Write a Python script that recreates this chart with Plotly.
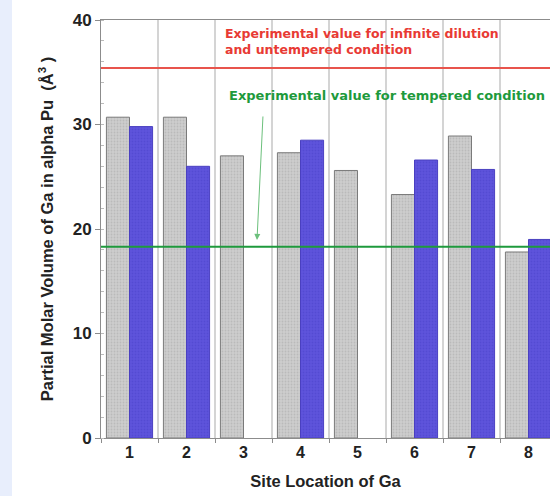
import plotly.graph_objects as go

# Site index of the Ga atom
sites = [1, 2, 3, 4, 5, 6, 7, 8]
# Partial molar volume (Å^3), two calculations per site (None = not computed)
volume_gray = [30.7, 30.7, 27.0, 27.3, 25.6, 23.3, 28.9, 17.8]
volume_blue = [29.8, 26.0, None, 28.5, None, 26.6, 25.7, 19.0]
# Experimental reference values
exp_untempered = 35.4
exp_tempered = 18.3
y_ticks = [0, 10, 20, 30, 40]

fig = go.Figure()

fig.add_trace(go.Bar(
    x=sites, y=volume_gray, name="gray",
    marker=dict(color="#c6c6c6", line=dict(color="#7a7a7a", width=1),
                pattern=dict(shape=".", fgcolor="#a8a8a8", bgcolor="#cdcdcd", size=3, solidity=0.3)),
))
fig.add_trace(go.Bar(
    x=sites, y=volume_blue, name="blue",
    marker=dict(color="#5a4ed8", line=dict(color="#4a40c0", width=1),
                pattern=dict(shape=".", fgcolor="#4a3fc8", bgcolor="#5e54dc", size=3, solidity=0.3)),
))

# separators between site groups
for b in [1.5, 2.5, 3.5, 4.5, 5.5, 6.5, 7.5]:
    fig.add_shape(type="line", xref="x", yref="y", x0=b, x1=b, y0=0, y1=40,
                  line=dict(color="#d4d4d4", width=2), layer="below")

# experimental reference lines
fig.add_shape(type="line", xref="paper", yref="y", x0=0, x1=1, y0=exp_untempered, y1=exp_untempered,
              line=dict(color="#e8544c", width=2))
fig.add_shape(type="line", xref="paper", yref="y", x0=0, x1=1, y0=exp_tempered, y1=exp_tempered,
              line=dict(color="#1e9a3c", width=2))

fig.add_annotation(
    xref="paper", yref="y", x=0.272, y=39.6, xanchor="left", yanchor="top",
    text="Experimental value for infinite dilution<br>and untempered condition",
    showarrow=False, align="left",
    font=dict(family="DejaVu Sans", size=12.5, color="#e83a34", weight="bold"),
)
fig.add_annotation(
    xref="paper", yref="y", x=0.281, y=32.8, xanchor="left", yanchor="middle",
    text="Experimental value for tempered condition",
    showarrow=False,
    font=dict(family="DejaVu Sans", size=13, color="#1e9a3c", weight="bold"),
)
fig.add_annotation(
    xref="x", yref="y", x=3.237, y=18.95, text="",
    showarrow=True, arrowhead=2, arrowsize=1.2, arrowwidth=1, arrowcolor="#6cc07c",
    ax=6, ay=-125,
)

fig.update_layout(
    width=550, height=496,
    margin=dict(l=101, r=0, t=20, b=58),
    paper_bgcolor="white", plot_bgcolor="white",
    barmode="group", bargap=0.19, bargroupgap=0,
    showlegend=False,
    font=dict(family="Arial, Liberation Sans", color="#222222"),
    xaxis=dict(
        range=[0.5, 8.377], tickvals=sites, ticktext=[str(s) for s in sites],
        ticks="", showgrid=False, zeroline=False,
        showline=True, linecolor="#8c8c8c", linewidth=1, mirror=True,
        tickfont=dict(size=16, weight="bold", color="#222222"),
        minor=dict(tickvals=[0.5, 1.5, 2.5, 3.5, 4.5, 5.5, 6.5, 7.5, 8.5],
                   ticks="outside", ticklen=4, tickcolor="#8c8c8c"),
        title=dict(text="Site Location of Ga", standoff=15,
                   font=dict(size=16.5, weight="bold", color="#222222")),
    ),
    yaxis=dict(
        range=[0, 40], tickvals=y_ticks, ticks="outside", ticklen=5, tickcolor="#8c8c8c",
        showgrid=False, zeroline=False,
        showline=True, linecolor="#8c8c8c", linewidth=1,
        tickfont=dict(size=17, weight="bold", color="#222222"),
        minor=dict(dtick=2, ticks="inside", ticklen=3, tickcolor="#bbbbbb"),
        title=dict(text="Partial Molar Volume of Ga in alpha Pu  (Å<sup>3</sup> )", standoff=14,
                   font=dict(size=16.5, weight="bold", color="#222222")),
    ),
)

# light side strip on the left edge
fig.add_shape(type="rect", xref="paper", yref="paper", x0=-101/449, x1=-89/449, y0=-58/418, y1=1+20/418,
              fillcolor="#e8eefc", line=dict(width=0), layer="below")

fig.write_html("out.html")
